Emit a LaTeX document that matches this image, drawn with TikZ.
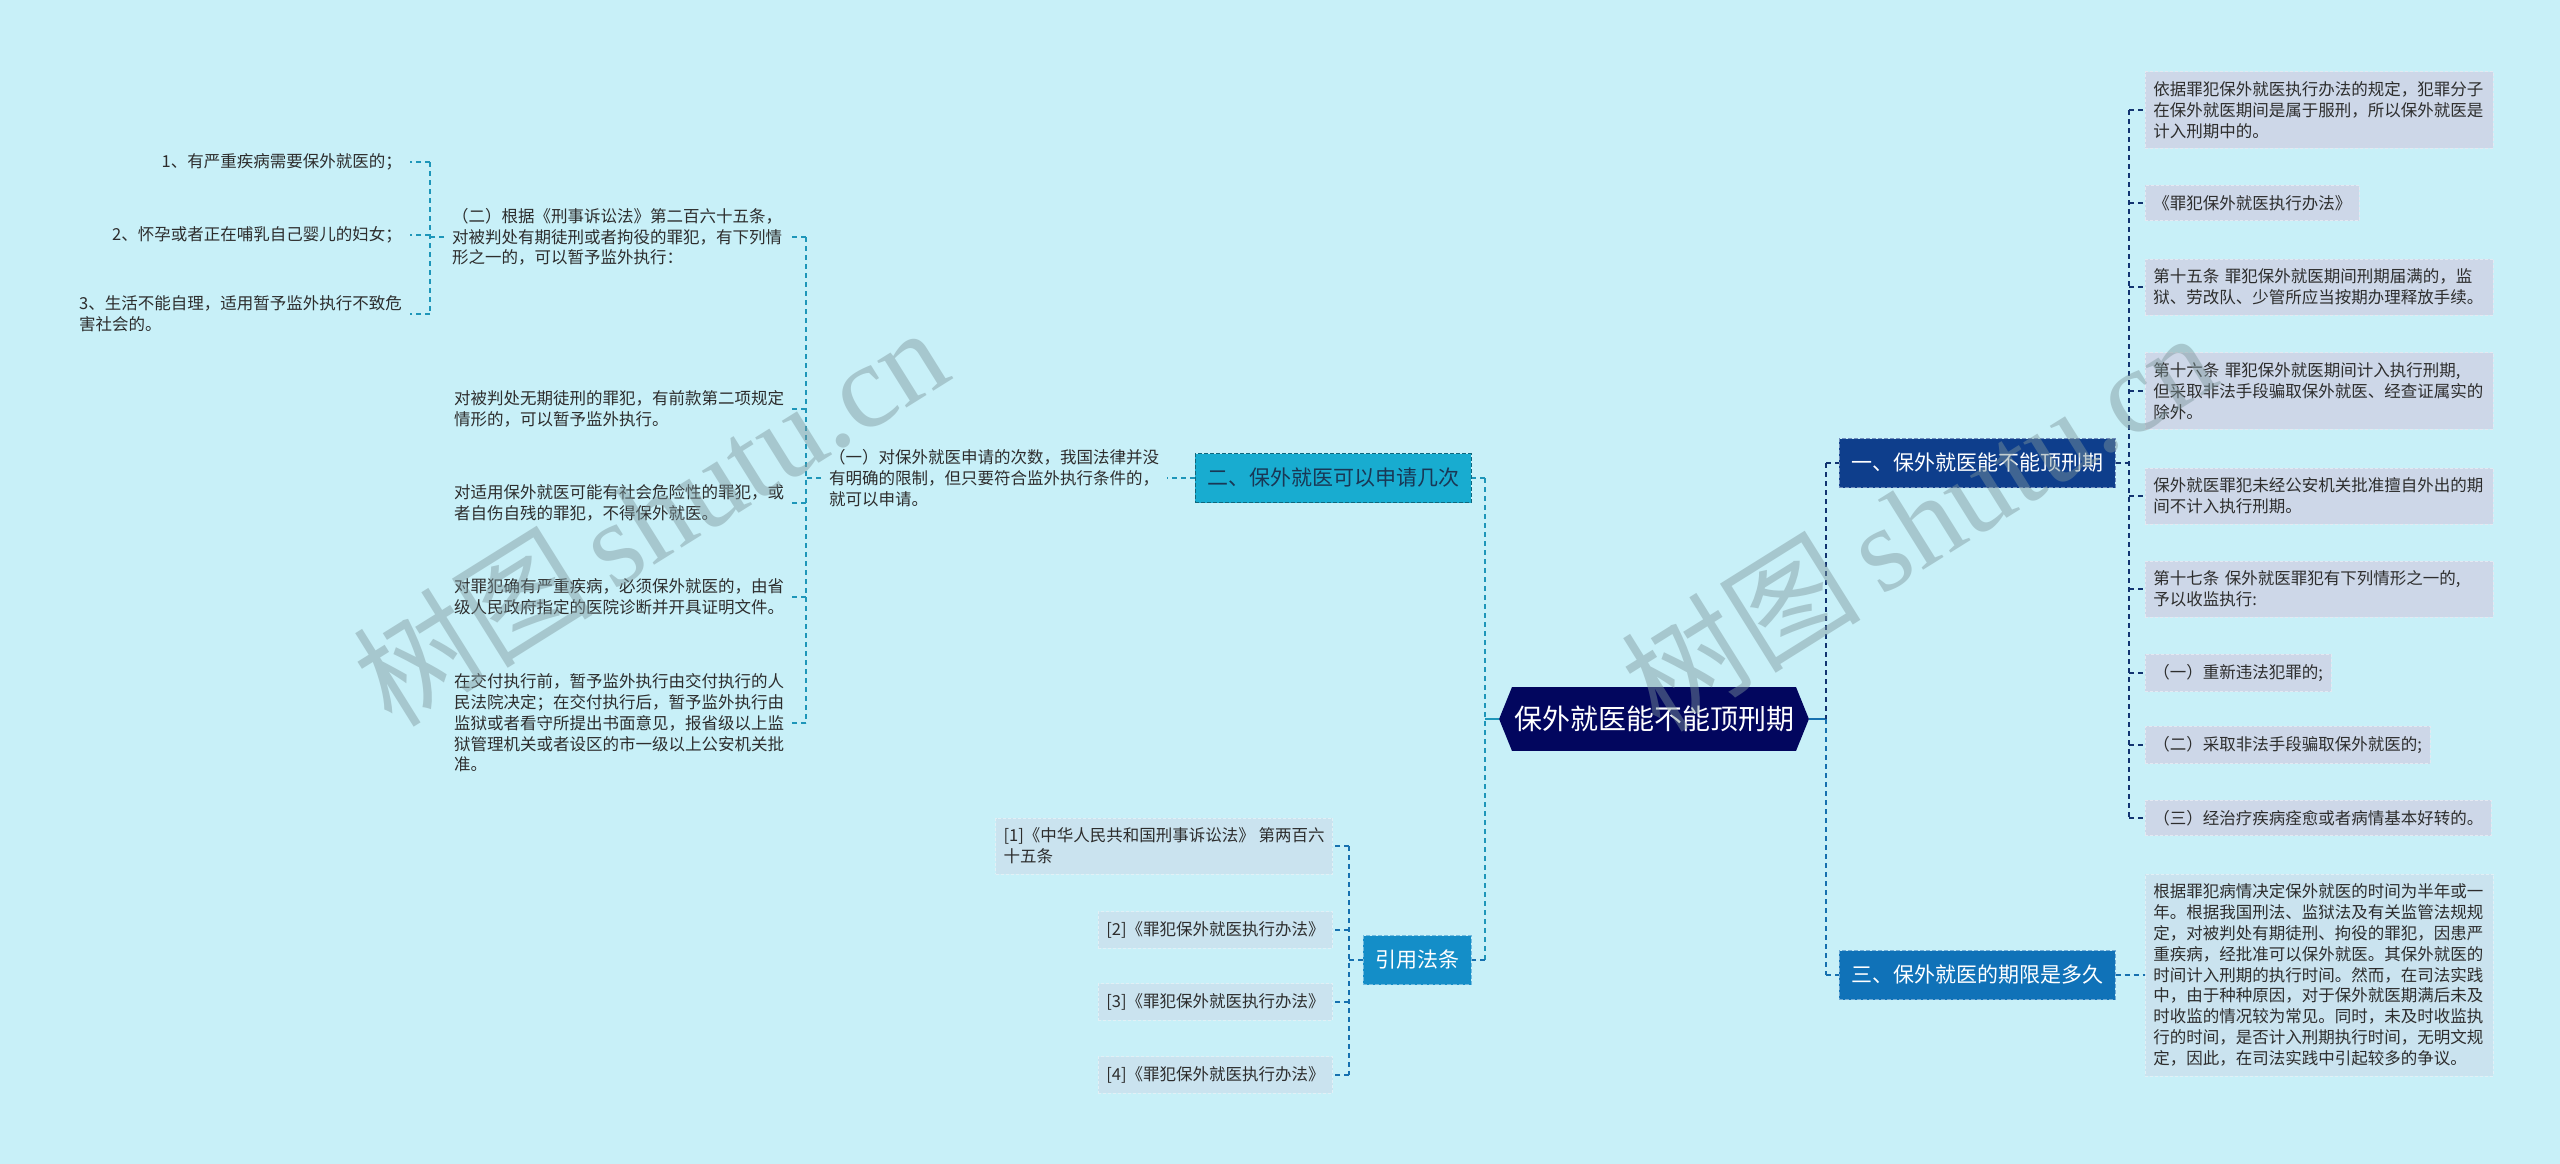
\documentclass[tikz,border=0pt]{standalone}
\usepackage{fontspec}
\setmainfont{Noto Sans CJK SC}
\newfontfamily\wmlatin{Liberation Serif}
\usetikzlibrary{shapes.symbols, positioning, calc}

\definecolor{bgC}{RGB}{200,240,248}
\definecolor{rootC}{RGB}{2,6,94}
\definecolor{oneC}{RGB}{14,62,140}
\definecolor{twoC}{RGB}{24,172,208}
\definecolor{threeC}{RGB}{16,114,184}
\definecolor{citeC}{RGB}{20,142,200}
\definecolor{boxG}{RGB}{205,215,232}
\definecolor{boxB}{RGB}{202,227,239}
\definecolor{leafT}{RGB}{45,45,45}
\definecolor{tealL}{RGB}{30,150,185}
\definecolor{navyL}{RGB}{18,52,112}
\definecolor{blueL}{RGB}{22,112,175}
\definecolor{wmC}{RGB}{125,150,155}

\tikzset{
  rootnode/.style={signal, signal to=west and east, signal pointer angle=136,
    fill=rootC, text=white, font=\fontsize{28}{32}\selectfont, inner xsep=2pt, inner ysep=19pt},
  branch/.style={font=\fontsize{21}{25}\selectfont, minimum height=49pt, inner xsep=12pt,
    draw, line width=1pt, dash pattern=on 4pt off 2pt},
  leaf/.style={font=\fontsize{16.5}{20.8}\selectfont, text=leafT, align=left, inner xsep=8pt, inner ysep=10pt},
  greybox/.style={leaf, fill=boxG, draw=white!45!boxG, line width=0.8pt, dash pattern=on 3pt off 2pt},
  bluebox/.style={leaf, fill=boxB, draw=white!45!boxB, line width=0.8pt, dash pattern=on 3pt off 2pt},
  wide/.style={text width=332pt},
  link/.style={line width=1.5pt, dash pattern=on 5pt off 4pt},
  watermark/.style={rotate=32, font=\fontsize{120}{120}\selectfont, text=wmC, opacity=0.45},
}

\begin{document}
\begin{tikzpicture}[x=1pt, y=-1pt]
    % canvas
    \fill[bgC] (0,0) rectangle (2560,1164);
    \useasboundingbox (0,0) rectangle (2560,1164);

    % centre topic
    \node[rootnode] (root) at (1654,719) {保外就医能不能顶刑期};

    % main branches
    \node[branch, fill=oneC, draw=oneC!60!white, text=white] (b1) at (1977,463) {一、保外就医能不能顶刑期};
    \node[branch, fill=twoC, draw=twoC!60!black, text={rgb,255:red,25;green,55;blue,85}] (b2) at (1333,478) {二、保外就医可以申请几次};
    \node[branch, fill=threeC, draw=threeC!60!white, text=white] (b3) at (1977,975) {三、保外就医的期限是多久};
    \node[branch, fill=citeC, draw=citeC!60!white, text=white] (cite) at (1417,960) {引用法条};

    % branch two: leaves
    \node[leaf, anchor=west] (q1) at (821,478) {（一）对保外就医申请的次数，我国法律并没\\有明确的限制，但只要符合监外执行条件的，\\就可以申请。};
    \node[leaf, anchor=west] (q2) at (444,237) {（二）根据《刑事诉讼法》第二百六十五条，\\对被判处有期徒刑或者拘役的罪犯，有下列情\\形之一的，可以暂予监外执行：};
    \node[leaf, anchor=west] (qa) at (446,409) {对被判处无期徒刑的罪犯，有前款第二项规定\\情形的，可以暂予监外执行。};
    \node[leaf, anchor=west] (qb) at (446,503) {对适用保外就医可能有社会危险性的罪犯，或\\者自伤自残的罪犯，不得保外就医。};
    \node[leaf, anchor=west] (qc) at (446,597) {对罪犯确有严重疾病，必须保外就医的，由省\\级人民政府指定的医院诊断并开具证明文件。};
    \node[leaf, anchor=west] (qd) at (446,723) {在交付执行前，暂予监外执行由交付执行的人\\民法院决定；在交付执行后，暂予监外执行由\\监狱或者看守所提出书面意见，报省级以上监\\狱管理机关或者设区的市一级以上公安机关批\\准。};
    \node[leaf, anchor=east] (it1) at (410,162) {1、有严重疾病需要保外就医的；};
    \node[leaf, anchor=east] (it2) at (410,235) {2、怀孕或者正在哺乳自己婴儿的妇女；};
    \node[leaf, anchor=east] (it3) at (410,314) {3、生活不能自理，适用暂予监外执行不致危\\害社会的。};

    % citations
    \node[bluebox, anchor=east] (c1) at (1333,846) {[1]《中华人民共和国刑事诉讼法》 第两百六\\十五条};
    \foreach \i/\y in {2/930, 3/1002, 4/1075} {
        \node[bluebox, anchor=east] (c\i) at (1333,\y) {[\i]《罪犯保外就医执行办法》};
    }

    % branch one: leaves
    \node[greybox, wide, anchor=west] (r1) at (2145,110) {依据罪犯保外就医执行办法的规定，犯罪分子\\在保外就医期间是属于服刑，所以保外就医是\\计入刑期中的。};
    \node[greybox, anchor=west] (r2) at (2145,203) {《罪犯保外就医执行办法》};
    \node[greybox, wide, anchor=west] (r3) at (2145,287) {第十五条 罪犯保外就医期间刑期届满的，监\\狱、劳改队、少管所应当按期办理释放手续。};
    \node[greybox, wide, anchor=west] (r4) at (2145,391) {第十六条 罪犯保外就医期间计入执行刑期,\\但采取非法手段骗取保外就医、经查证属实的\\除外。};
    \node[greybox, wide, anchor=west] (r5) at (2145,496) {保外就医罪犯未经公安机关批准擅自外出的期\\间不计入执行刑期。};
    \node[greybox, wide, anchor=west] (r6) at (2145,589) {第十七条 保外就医罪犯有下列情形之一的,\\予以收监执行:};
    \node[greybox, anchor=west] (r7) at (2145,673) {（一）重新违法犯罪的;};
    \node[greybox, anchor=west] (r8) at (2145,745) {（二）采取非法手段骗取保外就医的;};
    \node[greybox, anchor=west] (r9) at (2145,818) {（三）经治疗疾病痊愈或者病情基本好转的。};

    % branch three: leaf
    \node[bluebox, wide, anchor=west] (r10) at (2145,975) {根据罪犯病情决定保外就医的时间为半年或一\\年。根据我国刑法、监狱法及有关监管法规规\\定，对被判处有期徒刑、拘役的罪犯，因患严\\重疾病，经批准可以保外就医。其保外就医的\\时间计入刑期的执行时间。然而，在司法实践\\中，由于种种原因，对于保外就医期满后未及\\时收监的情况较为常见。同时，未及时收监执\\行的时间，是否计入刑期执行时间，无明文规\\定，因此，在司法实践中引起较多的争议。};

    % spines
    \coordinate (sL) at (1485,719);
    \coordinate (sR) at (1826,719);
    \coordinate (s1) at (2129,463);
    \coordinate (sq1) at (806,478);
    \coordinate (sq2) at (430,237);
    \coordinate (sc) at (1349,960);

    % root connectors
    \draw[line width=2pt, tealL] (root.west) -- (sL);
    \draw[link, line width=2pt, tealL] (sL |- b2) -- (sL |- cite);
    \draw[link, line width=2pt, tealL] (sL |- b2) -- (b2.east);
    \draw[link, line width=2pt, blueL] (sL |- cite) -- (cite.east);
    \draw[line width=2pt, blueL] (root.east) -- (sR);
    \draw[link, line width=2pt, navyL] (sR |- b1) -- (sR |- root);
    \draw[link, line width=2pt, blueL] (sR |- root) -- (sR |- b3);
    \draw[link, line width=2pt, navyL] (sR |- b1) -- (b1.west);
    \draw[link, line width=2pt, blueL] (sR |- b3) -- (b3.west);

    % branch two connectors
    \draw[link, tealL] (b2.west) -- (q1.east);
    \draw[link, tealL] (q1.west) -- (sq1);
    \draw[link, tealL] (sq1 |- q2) -- (sq1 |- qd);
    \foreach \n in {q2,qa,qb,qc,qd} {
        \draw[link, tealL] (sq1 |- \n) -- (\n.east);
    }
    \draw[link, tealL] (q2.west) -- (sq2);
    \draw[link, tealL] (sq2 |- it1) -- (sq2 |- it3);
    \foreach \n in {it1,it2,it3} {
        \draw[link, tealL] (sq2 |- \n) -- (\n.east);
    }

    % citation connectors
    \draw[link, blueL] (cite.west) -- (sc);
    \draw[link, blueL] (sc |- c1) -- (sc |- c4);
    \foreach \n in {c1,c2,c3,c4} {
        \draw[link, blueL] (sc |- \n) -- (\n.east);
    }

    % branch one and three connectors
    \draw[link, navyL] (b1.east) -- (s1);
    \draw[link, navyL] (s1 |- r1) -- (s1 |- r9);
    \foreach \n in {r1,r2,r3,r4,r5,r6,r7,r8,r9} {
        \draw[link, navyL] (s1 |- \n) -- (\n.west);
    }
    \draw[link, blueL] (b3.east) -- (r10.west);

    % watermarks
    \node[watermark] (wm1) at (650,515) {树图\,{\wmlatin shutu.cn}};
    \node[watermark] (wm2) at (1918,520) {树图\,{\wmlatin shutu.cn}};
\end{tikzpicture}
\end{document}
